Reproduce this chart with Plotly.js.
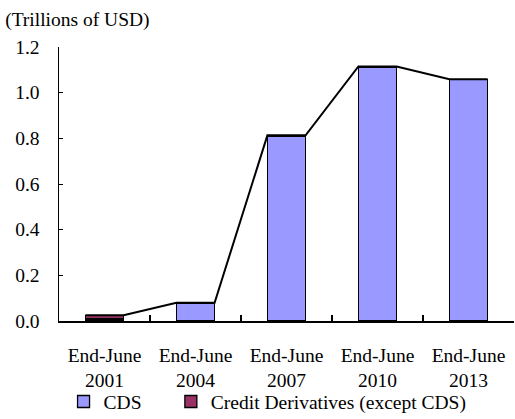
<!DOCTYPE html>
<html>
<head>
<meta charset="utf-8">
<script src="https://cdn.plot.ly/plotly-3.0.1.min.js"></script>
<style>html,body{margin:0;padding:0;background:#fff}#chart{width:515px;height:419px}</style>
</head>
<body>
<div id="chart"></div>
<script>
const categories = ["End-June<br>2001", "End-June<br>2004", "End-June<br>2007", "End-June<br>2010", "End-June<br>2013"];
const cdsValues = [0.009, 0.078, 0.810, 1.112, 1.057];
const otherValues = [0.016, 0.002, 0.003, 0.003, 0.002];
const seriesNames = ["CDS", "Credit Derivatives (except CDS)"];

const idx = categories.map((_, i) => i);
const barWidth = 0.42;
const totals = cdsValues.map((v, i) => v + otherValues[i]);
const lineX = [], lineY = [];
idx.forEach(i => { lineX.push(i - barWidth / 2, i + barWidth / 2); lineY.push(totals[i], totals[i]); });
const boundaries = idx.map(i => i + 0.5);
const pad = "\u00a0\u00a0\u00a0\u00a0\u00a0";

const font = {family: "Liberation Serif, Times New Roman, serif", size: 19.5, color: "#000"};

const data = [
  {type: "bar", x: idx, y: cdsValues, name: seriesNames[0] + pad, width: barWidth,
   marker: {color: "#9999ff", line: {color: "#000", width: 1.3}}},
  {type: "bar", x: idx, y: otherValues, name: seriesNames[1], width: barWidth,
   marker: {color: "#993366", line: {color: "#000", width: 1.3}}},
  {type: "scatter", mode: "lines", x: lineX, y: lineY, showlegend: false, hoverinfo: "skip",
   line: {color: "#000", width: 2}},
  {type: "scatter", mode: "markers", x: boundaries, y: boundaries.map(() => 0), xaxis: "x2",
   showlegend: false, hoverinfo: "skip", marker: {opacity: 0}}
];

const layout = {
  width: 515, height: 419,
  margin: {l: 59, r: 1, t: 47, b: 97.5, autoexpand: false},
  paper_bgcolor: "#fff", plot_bgcolor: "#fff",
  font: font,
  barmode: "stack",
  showlegend: true,
  title: {text: "(Trillions of USD)", font: font, xref: "container", yref: "container",
          x: 0.01, xanchor: "left", y: 0.955, yanchor: "middle"},
  xaxis: {range: [-0.5, 4.5], tickmode: "array", tickvals: idx, ticktext: categories,
          ticks: "", ticklabelstandoff: 16, showgrid: false, zeroline: false, showline: true,
          linecolor: "#000", linewidth: 1.5, fixedrange: true},
  xaxis2: {range: [-0.5, 4.5], overlaying: "x", side: "bottom", tickmode: "array", tickvals: boundaries,
           ticks: "inside", ticklen: 6, tickcolor: "#000", tickwidth: 1.2, showticklabels: false,
           showgrid: false, zeroline: false, showline: false, fixedrange: true},
  yaxis: {range: [0, 1.2], dtick: 0.2, tickformat: ".1f", ticks: "inside", ticklen: 4, tickcolor: "#000",
          ticklabelstandoff: 14,
          showgrid: false, zeroline: false, showline: true, linecolor: "#000", linewidth: 1.5, fixedrange: true},
  legend: {orientation: "h", traceorder: "normal", x: 0.01, xanchor: "left", y: -0.295, yanchor: "middle", font: font,
           tracegroupgap: 0, bgcolor: "rgba(0,0,0,0)"}
};

Plotly.newPlot("chart", data, layout, {staticPlot: true, displayModeBar: false});
</script>
</body>
</html>
